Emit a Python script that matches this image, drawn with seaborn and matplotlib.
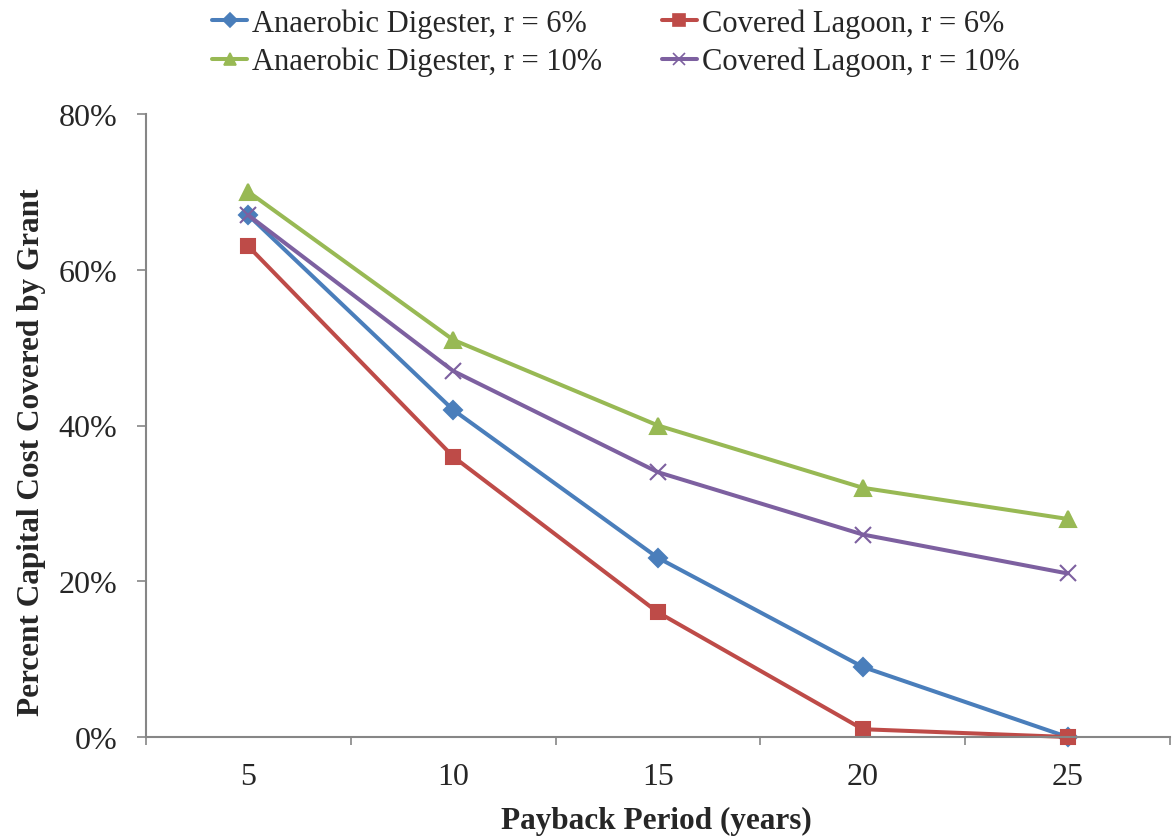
import matplotlib
matplotlib.use("Agg")
import matplotlib.pyplot as plt
import seaborn as sns
import pandas as pd
from matplotlib.ticker import FixedLocator, FuncFormatter
from matplotlib.lines import Line2D

payback = [5, 10, 15, 20, 25]
ad_6 = [67, 42, 23, 9, 0]
cl_6 = [63, 36, 16, 1, 0]
ad_10 = [70, 51, 40, 32, 28]
cl_10 = [67, 47, 34, 26, 21]

names = ["Anaerobic Digester, r = 6%", "Covered Lagoon, r = 6%",
         "Anaerobic Digester, r = 10%", "Covered Lagoon, r = 10%"]
series = [ad_6, cl_6, ad_10, cl_10]

sns.set_theme(style="white")
plt.rcParams["font.family"] = ["Liberation Serif", "DejaVu Serif"]

color_list = ["#4A7EBB", "#BE4B48", "#98B954", "#7D60A0"]
marker_list = ["D", "s", "^", "x"]
msize = [9, 10, 11, 11]

fig = plt.figure(figsize=(11.73, 8.37), dpi=100)
ax = fig.add_axes([146/1173, 99/837, (1170-146)/1173, (738-115)/837])

for n, vals, c, m, ms in zip(names, series, color_list, marker_list, msize):
    d = pd.DataFrame({"Payback": payback, "Value": vals})
    sns.lineplot(data=d, x="Payback", y="Value", color=c, marker=m, markersize=ms,
                 markeredgewidth=1.5, markeredgecolor=c, markerfacecolor=c,
                 linewidth=2.9, ax=ax, legend=False)
for line in ax.lines:
    line.set_clip_on(False)

ax.set_xlim(2.5, 27.5)
ax.set_ylim(0, 80)
ax.xaxis.set_major_locator(FixedLocator(payback))
ax.xaxis.set_minor_locator(FixedLocator([2.5, 7.5, 12.5, 17.5, 22.5, 27.5]))
ax.set_yticks([0, 20, 40, 60, 80])
ax.yaxis.set_major_formatter(FuncFormatter(lambda v, p: f"{int(v)}%"))

for s in ["top", "right"]:
    ax.spines[s].set_visible(False)
for s in ["left", "bottom"]:
    ax.spines[s].set_color("#868686")
    ax.spines[s].set_linewidth(1.5)

ax.tick_params(axis="x", which="major", length=0, pad=18, labelsize=23)
ax.tick_params(axis="x", which="minor", length=5.5, width=1.2, color="#868686",
               direction="out", bottom=True)
ax.tick_params(axis="y", which="major", length=6.5, width=1.2, color="#868686",
               direction="out", labelsize=23, pad=14, left=True)

ax.set_xlabel("Payback Period (years)", fontsize=22.5, fontweight="bold")
ax.set_ylabel("Percent Capital Cost Covered by Grant", fontsize=22.5, fontweight="bold")
ax.yaxis.set_label_coords(-0.098, 0.459)
ax.xaxis.set_label_coords(0.498, -0.111)

handles = [Line2D([0], [0], color=c, marker=m, linewidth=2.9, markersize=ms - 2,
                  markeredgewidth=1.2, markerfacecolor=c, markeredgecolor=c)
           for c, m, ms in zip(color_list, marker_list, msize)]
order = [0, 2, 1, 3]
fig.legend([handles[i] for i in order], [names[i] for i in order], ncol=2,
           loc="upper left", bbox_to_anchor=(212/1173, 0.989),
           bbox_transform=fig.transFigure, frameon=False,
           fontsize=22, handlelength=1.15, handletextpad=0.16, columnspacing=1.96,
           labelspacing=0.3, borderaxespad=0, borderpad=0)

fig.savefig("out.png", dpi=100)
